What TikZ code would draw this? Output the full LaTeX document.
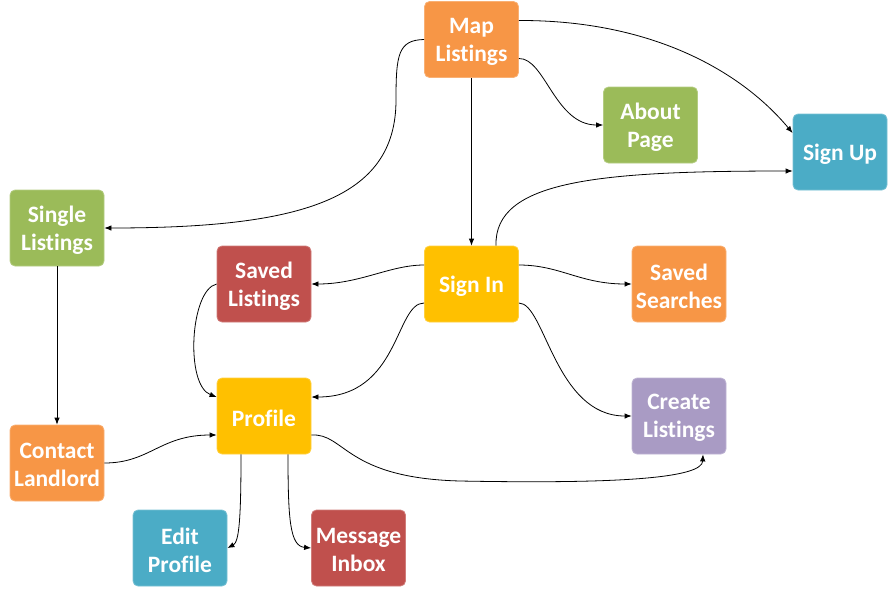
\documentclass[tikz,border=0pt]{standalone}
\usepackage{fontspec}
\setmainfont{Carlito}[Ligatures=NoCommon]
\usetikzlibrary{arrows.meta}
\definecolor{cOrange}{HTML}{F79646}
\definecolor{cGreen}{HTML}{9BBB59}
\definecolor{cBlue}{HTML}{4BACC6}
\definecolor{cRed}{HTML}{C0504D}
\definecolor{cGold}{HTML}{FFC000}
\definecolor{cPurple}{HTML}{A99BC4}
\newcommand\dn[1]{\vphantom{#1}\smash{\raisebox{-2pt}{#1}}}
\tikzset{
  box/.style={rectangle, rounded corners=5pt, minimum width=94pt, minimum height=76pt,
    inner sep=0pt, align=center, text=white, line width=0.8pt,
    font=\fontsize{23.5}{28}\selectfont\bfseries},
  obox/.style={box, fill=cOrange, draw=cOrange!75!white},
  gbox/.style={box, fill=cGreen, draw=cGreen!75!white},
  bbox/.style={box, fill=cBlue, draw=cBlue!75!white},
  rbox/.style={box, fill=cRed, draw=cRed!75!white},
  ybox/.style={box, fill=cGold, draw=cGold!75!white},
  pbox/.style={box, fill=cPurple, draw=cPurple!75!white},
  arr/.style={draw=black, line width=0.8pt, -{Latex[length=7pt,width=5.5pt]}}
}
\begin{document}
\begin{tikzpicture}[x=1pt,y=-1pt]
\useasboundingbox (0,0) rectangle (891,590);
\node[obox] (map) at (471.5,39.5) {\dn{Map}\\\dn{Listings}};
\node[gbox] (about) at (650.5,125) {\dn{About}\\\dn{Page}};
\node[bbox] (su) at (840,152) {\dn{Sign Up}};
\node[gbox] (single) at (57,228) {\dn{Single}\\\dn{Listings}};
\node[rbox] (savedl) at (264,284) {\dn{Saved}\\\dn{Listings}};
\node[ybox] (si) at (471.5,284) {\dn{Sign In}};
\node[obox] (saveds) at (679,284) {\dn{Saved}\\\dn{Searches}};
\node[ybox] (prof) at (264,416) {\dn{Profile}};
\node[pbox] (create) at (679,416) {\dn{Create}\\\dn{Listings}};
\node[obox] (contact) at (57,463) {\dn{Contact}\\\dn{Landlord}};
\node[bbox] (edit) at (180,548) {\dn{Edit}\\\dn{Profile}};
\node[rbox] (inbox) at (358.5,548) {\dn{Message}\\\dn{Inbox}};

% Map Listings edges
\draw[arr] (map.west) .. controls (398,40) and (396,55) .. (396,100)
  .. controls (396,200) and (300,228) .. (single.east);
\draw[arr] (map.south) -- (si.north);
\draw[arr] ([yshift=-19pt]map.east) .. controls (545,58) and (555,125) .. (about.west);
\draw[arr] ([yshift=19pt]map.east) .. controls (650,20) and (740,70) .. ([yshift=19pt]su.west);

% Sign In edges
\draw[arr] ([xshift=24.5pt]si.north) .. controls (494,180) and (600,171) .. ([yshift=-19pt]su.west);
\draw[arr] ([yshift=19pt]si.west) .. controls (390,265) and (360,284) .. (savedl.east);
\draw[arr] ([yshift=-19pt]si.west) .. controls (395,303) and (400,397) .. ([yshift=19pt]prof.east);
\draw[arr] ([yshift=19pt]si.east) .. controls (560,265) and (580,284) .. (saveds.west);
\draw[arr] ([yshift=-19pt]si.east) .. controls (545,303) and (555,416) .. (create.west);

% Others
\draw[arr] (savedl.west) .. controls (190,290) and (185,385) .. ([yshift=19pt]prof.west);
\draw[arr] (single.south) -- (contact.north);
\draw[arr] (contact.east) .. controls (150,463) and (160,435) .. ([yshift=-19pt]prof.west);
\draw[arr] ([xshift=-23pt]prof.south) .. controls (241,520) and (239,542) .. (edit.east);
\draw[arr] ([xshift=24pt]prof.south) .. controls (288,520) and (290,546) .. (inbox.west);
\draw[arr] ([yshift=-19pt]prof.east) .. controls (345,433) and (345,478) .. (460,481)
  .. controls (620,484) and (702,478) .. ([xshift=24pt]create.south);
\end{tikzpicture}
\end{document}
